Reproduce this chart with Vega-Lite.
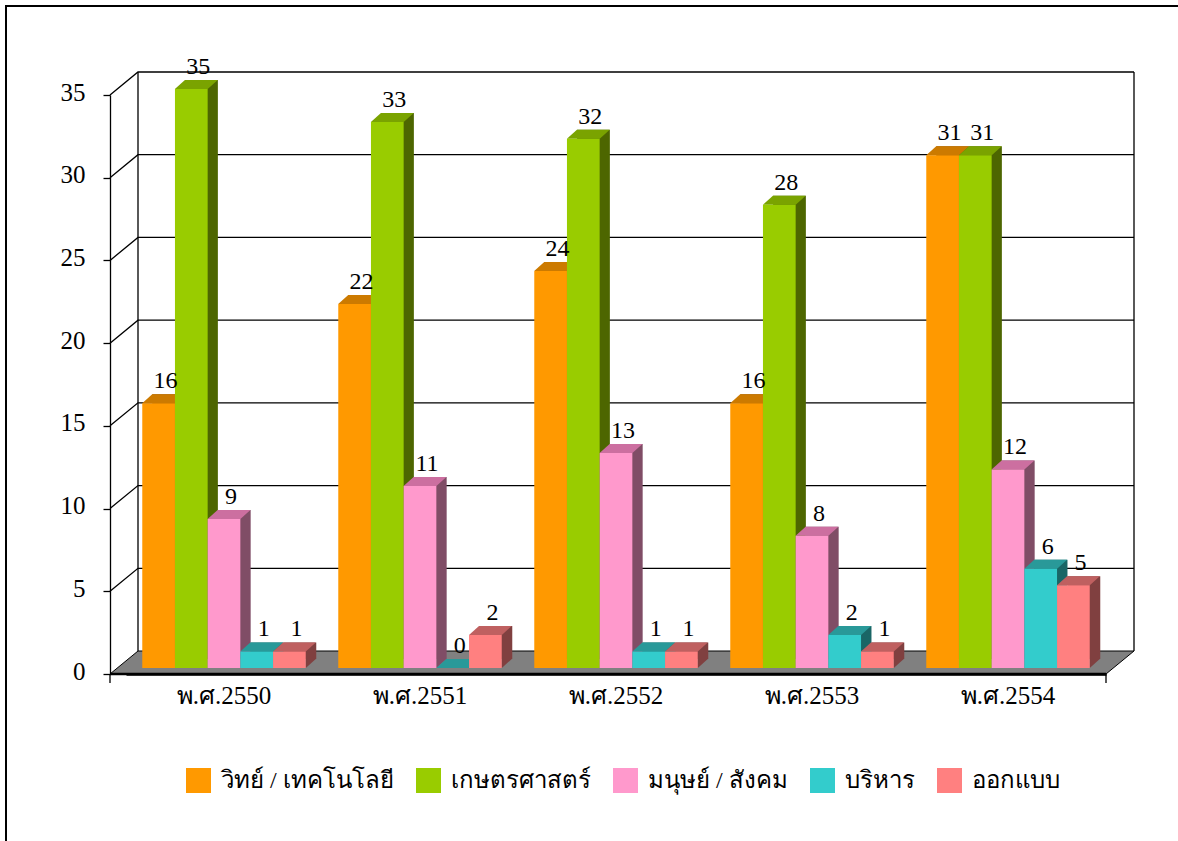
{
"$schema":"https://vega.github.io/schema/vega-lite/v6.json",
"autosize":"none",
"padding":{"left":110,"top":95,"right":72,"bottom":167},
"width":996,"height":579,
"background":"white",
"config":{"view":{"stroke":null},"font":"Liberation Serif"},
"datasets":{
"bars":[
{"year":"พ.ศ.2550","series":"วิทย์ / เทคโนโลยี","value":16},
{"year":"พ.ศ.2550","series":"เกษตรศาสตร์","value":35},
{"year":"พ.ศ.2550","series":"มนุษย์ / สังคม","value":9},
{"year":"พ.ศ.2550","series":"บริหาร","value":1},
{"year":"พ.ศ.2550","series":"ออกแบบ","value":1},
{"year":"พ.ศ.2551","series":"วิทย์ / เทคโนโลยี","value":22},
{"year":"พ.ศ.2551","series":"เกษตรศาสตร์","value":33},
{"year":"พ.ศ.2551","series":"มนุษย์ / สังคม","value":11},
{"year":"พ.ศ.2551","series":"บริหาร","value":0},
{"year":"พ.ศ.2551","series":"ออกแบบ","value":2},
{"year":"พ.ศ.2552","series":"วิทย์ / เทคโนโลยี","value":24},
{"year":"พ.ศ.2552","series":"เกษตรศาสตร์","value":32},
{"year":"พ.ศ.2552","series":"มนุษย์ / สังคม","value":13},
{"year":"พ.ศ.2552","series":"บริหาร","value":1},
{"year":"พ.ศ.2552","series":"ออกแบบ","value":1},
{"year":"พ.ศ.2553","series":"วิทย์ / เทคโนโลยี","value":16},
{"year":"พ.ศ.2553","series":"เกษตรศาสตร์","value":28},
{"year":"พ.ศ.2553","series":"มนุษย์ / สังคม","value":8},
{"year":"พ.ศ.2553","series":"บริหาร","value":2},
{"year":"พ.ศ.2553","series":"ออกแบบ","value":1},
{"year":"พ.ศ.2554","series":"วิทย์ / เทคโนโลยี","value":31},
{"year":"พ.ศ.2554","series":"เกษตรศาสตร์","value":31},
{"year":"พ.ศ.2554","series":"มนุษย์ / สังคม","value":12},
{"year":"พ.ศ.2554","series":"บริหาร","value":6},
{"year":"พ.ศ.2554","series":"ออกแบบ","value":5}
],
"grid":[{"tick":5},{"tick":10},{"tick":15},{"tick":20},{"tick":25},{"tick":30},{"tick":35}]
},
"layer":[
{"data":{"values":[{"tick":0}]},
 "mark":{"type":"point","shape":"M-602,167 L-602,-668 L570,-668","size":4,"filled":false,"stroke":"black","strokeWidth":2,"opacity":1},
 "encoding":{"y":{"field":"tick","type":"quantitative","scale":{"domain":[0,35],"nice":false}}}},
{"data":{"name":"grid"},
 "mark":{"type":"point","shape":"M-498,0 L-470,-23 L526,-23","size":4,"filled":false,"stroke":"black","strokeWidth":1.3,"opacity":1},
 "encoding":{"y":{"field":"tick","type":"quantitative"}}},
{"data":{"values":[{"tick":0}]},
 "mark":{"type":"point","shape":"M-470,-23 L-470,-602 M526,-602 L526,-23 M-498,0 L-498,9 M498,0 L498,9","size":4,"filled":false,"stroke":"black","strokeWidth":1.3,"opacity":1},
 "encoding":{"y":{"field":"tick","type":"quantitative"}}},
{"data":{"values":[{"tick":0}]},
 "mark":{"type":"point","shape":"M-498,0 L498,0 L526,-23 L-470,-23 Z","size":4,"filled":true,"fill":"#808080","stroke":"black","strokeWidth":1,"opacity":1},
 "encoding":{"y":{"field":"tick","type":"quantitative"}}},
{"data":{"values":[{"tick":0}]},
 "mark":{"type":"point","shape":"M-498,0 L498,0","size":4,"filled":false,"stroke":"black","strokeWidth":2.5,"opacity":1},
 "encoding":{"y":{"field":"tick","type":"quantitative"}}},
{"data":{"name":"bars"},
 "mark":{"type":"bar","yOffset":-15,"y2Offset":-15},
 "encoding":{
  "x":{"field":"year","type":"nominal","title":null,"scale":{"range":[16,996],"paddingInner":0.166,"paddingOuter":0.083},
   "axis":{"labelAngle":0,"labelAlign":"center","labelBaseline":"top","labelFontSize":25,"labelFont":"Liberation Serif","labelColor":"black","labelPadding":9,"domainColor":"black","domainWidth":2.5,"ticks":false,"zindex":1}},
  "xOffset":{"field":"series","type":"nominal","scale":{"range":[10,174],"domain":["วิทย์ / เทคโนโลยี","เกษตรศาสตร์","มนุษย์ / สังคม","บริหาร","ออกแบบ"]}},
  "y":{"field":"value","type":"quantitative","title":null,"axis":{"values":[0,5,10,15,20,25,30,35],"grid":false,"labelFontSize":25,"labelFont":"Liberation Serif","labelColor":"black","labelPadding":18,"labelOffset":-3,"tickColor":"black","tickSize":7,"tickWidth":1.3,"domainColor":"black","domainWidth":1.3,"zindex":1}},
  "color":{"field":"series","type":"nominal","legend":null,"scale":{"domain":["วิทย์ / เทคโนโลยี","เกษตรศาสตร์","มนุษย์ / สังคม","บริหาร","ออกแบบ"],"range":["#804D00","#4D6600","#804D66","#1A6666","#804040"]}}
 }},
{"data":{"name":"bars"},
 "mark":{"type":"point","shape":"M16.4,0 L26.4,-9 L16.4,-9 Z","size":4,"filled":true,"opacity":1,"yOffset":-6},
 "encoding":{
  "x":{"field":"year","type":"nominal"},
  "xOffset":{"field":"series","type":"nominal","scale":{"domain":["วิทย์ / เทคโนโลยี","เกษตรศาสตร์","มนุษย์ / สังคม","บริหาร","ออกแบบ"]}},
  "y":{"datum":0,"type":"quantitative"},
  "color":{"field":"series","type":"nominal","legend":null,"scale":{"domain":["วิทย์ / เทคโนโลยี","เกษตรศาสตร์","มนุษย์ / สังคม","บริหาร","ออกแบบ"],"range":["#804D00","#4D6600","#804D66","#1A6666","#804040"]}}
 }},
{"data":{"name":"bars"},
 "mark":{"type":"point","shape":"M-16.4,0 L16.4,0 L26.4,-9 L-6.4,-9 Z","size":4,"filled":true,"opacity":1,"yOffset":-6},
 "encoding":{
  "x":{"field":"year","type":"nominal"},
  "xOffset":{"field":"series","type":"nominal","scale":{"domain":["วิทย์ / เทคโนโลยี","เกษตรศาสตร์","มนุษย์ / สังคม","บริหาร","ออกแบบ"]}},
  "y":{"field":"value","type":"quantitative"},
  "color":{"field":"series","type":"nominal","legend":null,"scale":{"domain":["วิทย์ / เทคโนโลยี","เกษตรศาสตร์","มนุษย์ / สังคม","บริหาร","ออกแบบ"],"range":["#CC7A00","#7AA300","#CC6FA0","#299999","#BF6060"]}}
 }},
{"data":{"name":"bars"},
 "mark":{"type":"bar","yOffset":-6,"y2Offset":-6},
 "encoding":{
  "x":{"field":"year","type":"nominal","title":null},
  "xOffset":{"field":"series","type":"nominal","scale":{"domain":["วิทย์ / เทคโนโลยี","เกษตรศาสตร์","มนุษย์ / สังคม","บริหาร","ออกแบบ"]}},
  "y":{"field":"value","type":"quantitative","title":null},
  "color":{"field":"series","type":"nominal","title":null,"scale":{"domain":["วิทย์ / เทคโนโลยี","เกษตรศาสตร์","มนุษย์ / สังคม","บริหาร","ออกแบบ"],"range":["#FF9900","#99CC00","#FF99CC","#33CCCC","#FF8080"]},
   "legend":{"orient":"none","legendX":76,"legendY":673,"direction":"horizontal","columns":5,"symbolType":"square","symbolSize":625,"symbolStrokeWidth":0,"symbolOpacity":1,"labelFontSize":24,"labelFont":"Liberation Serif","labelColor":"black","labelLimit":300,"columnPadding":22,"gridAlign":"none","labelOffset":10}}
 }},
{"data":{"name":"bars"},
 "mark":{"type":"text","fontSize":24,"font":"Liberation Serif","color":"black","dx":7,"yOffset":-28,"baseline":"middle"},
 "encoding":{
  "x":{"field":"year","type":"nominal"},
  "xOffset":{"field":"series","type":"nominal","scale":{"domain":["วิทย์ / เทคโนโลยี","เกษตรศาสตร์","มนุษย์ / สังคม","บริหาร","ออกแบบ"]}},
  "y":{"field":"value","type":"quantitative"},
  "text":{"field":"value","type":"quantitative"}
 }}
],
"resolve":{"scale":{"color":"independent","xOffset":"independent"}}
}
